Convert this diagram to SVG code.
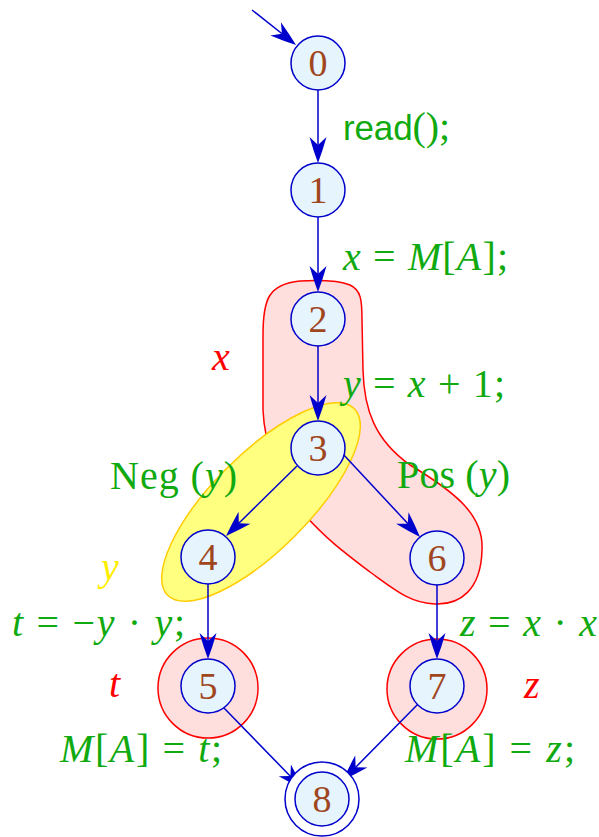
<svg xmlns="http://www.w3.org/2000/svg" xmlns:xlink="http://www.w3.org/1999/xlink" width="599" height="837" viewBox="0 0 599 837">
<defs>
<style>
.edge{stroke:#0000cc;stroke-width:1.5;fill:none}
.node{fill:#e6f4fd;stroke:#0000cc;stroke-width:1.5}
.num{font-family:"Liberation Serif",serif;font-size:38px;fill:#a0461e;text-anchor:middle}
.lbl{font-family:"Liberation Serif",serif;font-size:40px;fill:#10aa10}
.it{font-style:italic}
.sans{font-family:"Liberation Sans",sans-serif}
.reg{fill:#ffdede;stroke:#ff0000;stroke-width:1.5}
.rl{font-family:"Liberation Serif",serif;font-size:40px;font-style:italic;fill:#ff0000}
</style>
<path id="head" d="M0,0 Q-12,-4.5 -26,-8.5 L-18,0 L-26,8.5 Q-12,4.5 0,0 Z" fill="#0000cc"/>
</defs>
<rect width="599" height="837" fill="#ffffff"/>
<g id="regions">
<path class="reg" d="M263,410 L263,335 C263,300 268,284 300,281 C320,280 340,281 350,285 C361,290 362,300 362,320 L363,370 C364,410 375,440 410,465 C455,492 484,515 482,550 C481,590 460,605 435,604 C410,603 395,590 370,572 C345,553 325,538 305,515 C285,490 265,455 263,410 Z"/>
<ellipse cx="261" cy="502" rx="132" ry="48" transform="rotate(-45 261 502)" fill="#ffff80" stroke="#ffcc00" stroke-width="1.5"/>
<circle class="reg" cx="208" cy="688" r="50"/>
<circle class="reg" cx="437" cy="689" r="50"/>
</g>
<g id="connectors">
<line class="edge" x1="252" y1="10" x2="290" y2="40"/>
<use xlink:href="#head" href="#head" transform="translate(296,45) rotate(38.5)"/>
<line class="edge" x1="318" y1="90" x2="318" y2="150"/>
<use xlink:href="#head" href="#head" transform="translate(318,163) rotate(90)"/>
<line class="edge" x1="318" y1="217" x2="318" y2="280"/>
<use xlink:href="#head" href="#head" transform="translate(318,292) rotate(90)"/>
<line class="edge" x1="318" y1="346" x2="318" y2="408"/>
<use xlink:href="#head" href="#head" transform="translate(318,421) rotate(90)"/>
<line class="edge" x1="297" y1="466" x2="236" y2="526"/>
<use xlink:href="#head" href="#head" transform="translate(226,536) rotate(135.4)"/>
<line class="edge" x1="342" y1="453" x2="411" y2="527"/>
<use xlink:href="#head" href="#head" transform="translate(420,537) rotate(47.1)"/>
<line class="edge" x1="208" y1="584" x2="208" y2="646"/>
<use xlink:href="#head" href="#head" transform="translate(208,659) rotate(90)"/>
<line class="edge" x1="437" y1="585" x2="437" y2="646"/>
<use xlink:href="#head" href="#head" transform="translate(437,659) rotate(90)"/>
<line class="edge" x1="224" y1="708" x2="294" y2="780"/>
<use xlink:href="#head" href="#head" transform="translate(303,789) rotate(45.7)"/>
<line class="edge" x1="422" y1="700" x2="352" y2="771"/>
<use xlink:href="#head" href="#head" transform="translate(343,780) rotate(134.6)"/>
</g>
<g id="n0"><circle class="node" cx="318" cy="63" r="27"/><text class="num" x="318" y="76">0</text></g>
<g id="n1"><circle class="node" cx="318" cy="190" r="27"/><text class="num" x="318" y="203">1</text></g>
<g id="n2"><circle class="node" cx="318" cy="319" r="27"/><text class="num" x="318" y="332">2</text></g>
<g id="n3"><circle class="node" cx="318" cy="448" r="27"/><text class="num" x="318" y="461">3</text></g>
<g id="n4"><circle class="node" cx="208" cy="557" r="27"/><text class="num" x="208" y="570">4</text></g>
<g id="n6"><circle class="node" cx="437" cy="558" r="27"/><text class="num" x="437" y="571">6</text></g>
<g id="n5"><circle class="node" cx="208" cy="686" r="27"/><text class="num" x="208" y="699">5</text></g>
<g id="n7"><circle class="node" cx="437" cy="686" r="27"/><text class="num" x="437" y="699">7</text></g>
<g id="n8"><circle cx="322" cy="799" r="37" fill="#ffffff" stroke="#0000cc" stroke-width="1.5"/><circle class="node" cx="322" cy="799" r="27"/><text class="num" x="322" y="812">8</text></g>
<g id="labels">
<text class="lbl" x="343" y="140" textLength="107" lengthAdjust="spacing"><tspan class="sans" font-size="35">read</tspan>();</text>
<text class="lbl" x="343" y="270" textLength="165" lengthAdjust="spacing"><tspan class="it">x</tspan> = <tspan class="it">M</tspan>[<tspan class="it">A</tspan>];</text>
<text class="lbl" x="343" y="397" textLength="162" lengthAdjust="spacing"><tspan class="it">y</tspan> = <tspan class="it">x</tspan> + 1;</text>
<text class="lbl" x="110" y="489" textLength="127" lengthAdjust="spacing">Neg (<tspan class="it">y</tspan>)</text>
<text class="lbl" x="397" y="488" textLength="113" lengthAdjust="spacing">Pos (<tspan class="it">y</tspan>)</text>
<text class="lbl" x="12" y="636" textLength="173" lengthAdjust="spacing"><tspan class="it">t</tspan> = −<tspan class="it">y</tspan> · <tspan class="it">y</tspan>;</text>
<text class="lbl" x="460" y="636" textLength="137" lengthAdjust="spacing"><tspan class="it">z</tspan> = <tspan class="it">x</tspan> · <tspan class="it">x</tspan></text>
<text class="lbl" x="60" y="762" textLength="162" lengthAdjust="spacing"><tspan class="it">M</tspan>[<tspan class="it">A</tspan>] = <tspan class="it">t</tspan>;</text>
<text class="lbl" x="405" y="762" textLength="170" lengthAdjust="spacing"><tspan class="it">M</tspan>[<tspan class="it">A</tspan>] = <tspan class="it">z</tspan>;</text>
<text class="rl" x="212" y="370">x</text>
<text class="rl" x="101" y="580" style="fill:#ffee00">y</text>
<text class="rl" x="109" y="697">t</text>
<text class="rl" x="524" y="698">z</text>
</g>
</svg>
